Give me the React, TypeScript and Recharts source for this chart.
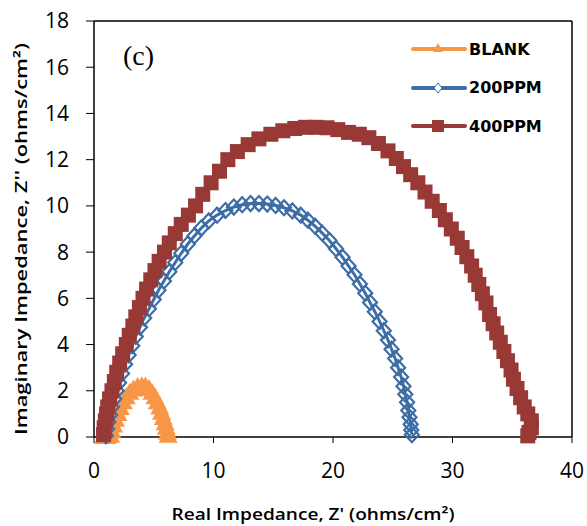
import { ScatterChart, Scatter, XAxis, YAxis, ReferenceLine, Legend, Label } from 'recharts';

// Nyquist data: Z' (x) and Z'' (y), ohms/cm2
const blankX = [0.8, 1.1, 1.4, 1.5, 1.65, 1.8, 2.0, 2.2, 2.45, 2.7, 3.0, 3.3, 3.65, 4.0, 4.3, 4.6, 4.85, 5.1, 5.3, 5.5, 5.65, 5.8, 5.95, 6.05, 6.15, 6.2];
const blankY = [0.0, 0.0, 0.05, 0.25, 0.5, 0.75, 1.0, 1.25, 1.5, 1.72, 1.92, 2.06, 2.16, 2.2, 2.18, 2.08, 1.92, 1.72, 1.5, 1.28, 1.05, 0.82, 0.6, 0.4, 0.2, 0.05];

const ppm200X = [1.0, 1.1, 1.2, 1.35, 1.5, 1.7, 1.9, 2.1, 2.35, 2.6, 2.9, 3.2, 3.5, 3.85, 4.2, 4.6, 5.0, 5.4, 5.85, 6.3, 6.8, 7.3, 7.85, 8.4, 9.0, 9.6, 10.3, 11.0, 11.7, 12.4, 13.1, 13.8, 14.5, 15.2, 15.9, 16.6, 17.3, 17.9, 18.5, 19.1, 19.7, 20.25, 20.8, 21.3, 21.8, 22.25, 22.7, 23.1, 23.5, 23.9, 24.25, 24.6, 24.9, 25.2, 25.45, 25.7, 25.9, 26.05, 26.2, 26.3, 26.4, 26.5, 26.55, 26.6];
const ppm200Y = [0.05, 0.35, 0.65, 0.95, 1.3, 1.65, 2.0, 2.35, 2.75, 3.15, 3.55, 3.95, 4.35, 4.75, 5.15, 5.55, 5.95, 6.35, 6.75, 7.15, 7.55, 7.95, 8.35, 8.7, 9.05, 9.35, 9.6, 9.8, 9.95, 10.05, 10.1, 10.1, 10.08, 10.02, 9.92, 9.78, 9.6, 9.38, 9.12, 8.82, 8.5, 8.15, 7.78, 7.4, 7.02, 6.62, 6.22, 5.82, 5.42, 5.0, 4.6, 4.2, 3.8, 3.4, 3.0, 2.6, 2.2, 1.85, 1.5, 1.15, 0.85, 0.55, 0.3, 0.1];

const ppm400X = [0.8, 0.85, 0.95, 1.05, 1.15, 1.3, 1.5, 1.7, 1.9, 2.15, 2.4, 2.7, 2.95, 3.25, 3.5, 3.8, 4.1, 4.4, 4.75, 5.1, 5.45, 5.9, 6.3, 6.8, 7.3, 7.9, 8.5, 9.1, 9.8, 10.5, 11.2, 12.0, 12.9, 13.8, 14.8, 15.8, 16.8, 17.7, 18.6, 19.5, 20.4, 21.3, 22.2, 23.0, 23.8, 24.6, 25.3, 25.9, 26.5, 27.1, 27.7, 28.3, 28.9, 29.4, 29.9, 30.4, 30.8, 31.2, 31.6, 31.9, 32.2, 32.5, 32.8, 33.1, 33.4, 33.7, 34.0, 34.3, 34.6, 34.9, 35.1, 35.4, 35.7, 36.0, 36.3, 36.6, 36.6, 36.4, 36.3];
const ppm400Y = [0.1, 0.4, 0.7, 1.0, 1.3, 1.65, 2.0, 2.4, 2.8, 3.2, 3.6, 4.0, 4.4, 4.8, 5.2, 5.6, 6.0, 6.4, 6.8, 7.2, 7.6, 8.0, 8.4, 8.8, 9.2, 9.6, 10.0, 10.5, 11.0, 11.5, 12.0, 12.35, 12.65, 12.9, 13.1, 13.25, 13.35, 13.4, 13.4, 13.38, 13.3, 13.18, 13.1, 12.95, 12.7, 12.38, 12.05, 11.7, 11.35, 11.0, 10.6, 10.2, 9.8, 9.4, 9.0, 8.6, 8.2, 7.8, 7.4, 7.0, 6.6, 6.2, 5.8, 5.3, 4.9, 4.5, 4.1, 3.7, 3.3, 2.9, 2.5, 2.1, 1.7, 1.3, 1.0, 0.7, 0.4, 0.2, 0.05];

const xTicks = [0, 10, 20, 30, 40];
const yTicks = [0, 2, 4, 6, 8, 10, 12, 14, 16, 18];

const ORANGE = '#F79646';
const BLUE = '#3D6DA6';
const RED = '#983936';

const toPoints = (xs: number[], ys: number[]) => xs.map((x, i) => ({ x, y: ys[i] }));

const TriangleDot = ({ cx, cy }: any) => (
  <polygon points={`${cx},${cy - 10} ${cx + 9.5},${cy + 7} ${cx - 9.5},${cy + 7}`} fill={ORANGE} />
);
const DiamondDot = ({ cx, cy }: any) => (
  <polygon points={`${cx},${cy - 7.5} ${cx + 7},${cy} ${cx},${cy + 7.5} ${cx - 7},${cy}`} fill="none" stroke={BLUE} strokeWidth={2.2} />
);
const SquareDot = ({ cx, cy }: any) => (
  <rect x={cx - 7.5} y={cy - 7.5} width={15} height={15} fill={RED} />
);

const series = [
  { name: 'BLANK', color: ORANGE, data: toPoints(blankX, blankY), shape: TriangleDot, width: 6 },
  { name: '200PPM', color: BLUE, data: toPoints(ppm200X, ppm200Y), shape: DiamondDot, width: 3 },
  { name: '400PPM', color: RED, data: toPoints(ppm400X, ppm400Y), shape: SquareDot, width: 4 },
];

const legendMarker = (name: string) => {
  if (name === 'BLANK') return <polygon points="28,2 33,11 23,11" fill={ORANGE} />;
  if (name === '200PPM') return <polygon points="28,3 32,8 28,13 24,8" fill="#fff" stroke={BLUE} strokeWidth={1} />;
  return <rect x={22} y={2} width={12} height={12} fill={RED} />;
};

const renderLegend = () => (
  <div>
    {series.map((s) => (
      <div key={s.name} style={{ display: 'flex', alignItems: 'center', height: 38.5 }}>
        <svg width={58} height={16}>
          <line x1={3} x2={55} y1={8} y2={8} stroke={s.color} strokeWidth={4} strokeLinecap="round" />
          {legendMarker(s.name)}
        </svg>
        <span style={{ fontFamily: 'DejaVu Sans', fontWeight: 'bold', fontSize: 16, color: '#000', marginLeft: 1 }}>
          {s.name}
        </span>
      </div>
    ))}
  </div>
);

const titleFont = { fontFamily: 'Open Sans', fontWeight: 600, fontSize: 17, fill: '#000' };

const App = () => (
  <div style={{ position: 'absolute', left: 0, top: 0, width: 587, height: 526, background: '#fff' }}>
    <ScatterChart width={587} height={526} margin={{ top: 21, right: 15, bottom: 0, left: 24 }}>
      <XAxis
        type="number"
        dataKey="x"
        domain={[0, 40]}
        ticks={xTicks}
        interval={0}
        height={89}
        tickSize={6}
        tickMargin={20}
        axisLine={{ stroke: '#000', strokeWidth: 1.5 }}
        tickLine={{ stroke: '#000' }}
        tick={{ fill: '#000', fontSize: 21, fontFamily: 'Open Sans' }}
      >
        <Label
          content={() => (
            <text x={313} y={520} textAnchor="middle" textLength={283} lengthAdjust="spacingAndGlyphs" {...titleFont}>
              Real Impedance, Z' (ohms/cm²)
            </text>
          )}
        />
      </XAxis>
      <YAxis
        type="number"
        dataKey="y"
        domain={[0, 18]}
        ticks={yTicks}
        interval={0}
        width={70}
        tickSize={8}
        tickMargin={17}
        axisLine={{ stroke: '#000', strokeWidth: 1.5 }}
        tickLine={{ stroke: '#000' }}
        tick={{ fill: '#000', fontSize: 21, fontFamily: 'Open Sans' }}
      >
        <Label
          content={() => (
            <text
              x={27}
              y={239}
              transform="rotate(-90 27 239)"
              textAnchor="middle"
              textLength={392}
              lengthAdjust="spacingAndGlyphs"
              {...titleFont}
            >
              Imaginary Impedance, Z'' (ohms/cm²)
            </text>
          )}
        />
      </YAxis>
      <ReferenceLine y={18} stroke="#000" strokeWidth={1.5} />
      <ReferenceLine x={40} stroke="#000" strokeWidth={1.5} />
      <Legend
        layout="horizontal"
        verticalAlign="middle"
        align="center"
        content={renderLegend}
        wrapperStyle={{ top: 30, left: 410, width: 170 }}
      />
      {series.map((s) => (
        <Scatter
          key={s.name}
          name={s.name}
          data={s.data}
          line={{ stroke: s.color, strokeWidth: s.width }}
          lineType="joint"
          shape={s.shape}
          isAnimationActive={false}
        />
      ))}
    </ScatterChart>
    <div style={{ position: 'absolute', left: 123, top: 40, fontFamily: 'Liberation Serif', fontSize: 28, color: '#000' }}>
      (c)
    </div>
  </div>
);

export default App;
